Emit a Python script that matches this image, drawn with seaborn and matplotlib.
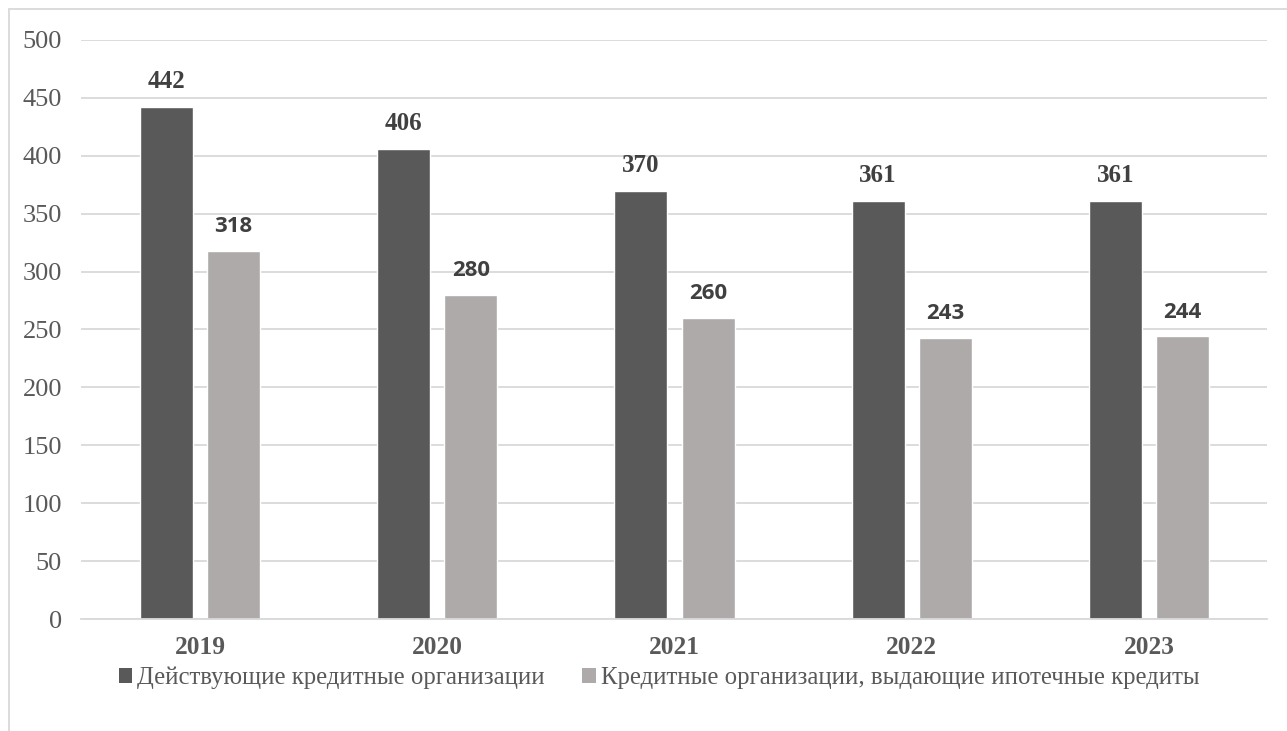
import matplotlib
matplotlib.use("Agg")
import matplotlib.pyplot as plt
import seaborn as sns
import pandas as pd
from matplotlib.lines import Line2D
from matplotlib.patches import Patch

years = ["2019", "2020", "2021", "2022", "2023"]
series_names = ["Действующие кредитные организации",
                "Кредитные организации, выдающие ипотечные кредиты"]
active = [442, 406, 370, 361, 361]
mortgage = [318, 280, 260, 243, 244]
y_ticks = [0, 50, 100, 150, 200, 250, 300, 350, 400, 450, 500]

df = pd.DataFrame({
    "year": years * 2,
    "series": [series_names[0]] * len(years) + [series_names[1]] * len(years),
    "value": active + mortgage,
})

sns.set_theme(style="white")
plt.rcParams["font.family"] = ["Liberation Serif", "DejaVu Serif"]

colors = ["#595959", "#AEAAAA"]
fig = plt.figure(figsize=(12.87, 7.31), dpi=100)
ax = fig.add_axes([0.0633, 0.1532, 0.9215, 0.7921])

sns.barplot(data=df, x="year", y="value", hue="series", palette=colors,
            width=0.566, gap=0.21, ax=ax, legend=False, saturation=1)

ax.set_ylim(0, 500)
ax.set_yticks(y_ticks)
ax.set_xlim(-0.5, len(years) - 0.5)
ax.yaxis.grid(True, color="#D9D9D9", linewidth=1.3)
ax.set_axisbelow(True)
for s in ["top", "right", "left"]:
    ax.spines[s].set_visible(False)
ax.spines["bottom"].set_color("#D9D9D9")
ax.spines["bottom"].set_linewidth(1.3)
ax.set_xlabel("")
ax.set_ylabel("")
ax.tick_params(axis="y", length=0, pad=14, labelsize=19, labelcolor="#595959")
ax.tick_params(axis="x", length=0, pad=12, labelsize=18.3, labelcolor="#595959")
for lbl in ax.get_xticklabels():
    lbl.set_fontweight("bold")

# bar labels
conts = ax.containers
ax.bar_label(conts[0], labels=[str(v) for v in active], padding=10,
             fontsize=18, fontweight="bold", color="#404040",
             family=["Liberation Serif"])
ax.bar_label(conts[1], labels=[str(v) for v in mortgage], padding=10,
             fontsize=16, fontweight="bold", color="#404040",
             family=["Open Sans", "DejaVu Sans"])

handles = [Patch(facecolor=c, edgecolor="none") for c in colors]
fig.legend(handles, series_names, loc="center", bbox_to_anchor=(0.512, 0.073),
           ncol=2, frameon=False, fontsize=17.8, labelcolor="#595959",
           handlelength=0.55, handleheight=0.55, handletextpad=0.2,
           columnspacing=1.5)

# chart area border (left and top)
fig.add_artist(Line2D([9 / 1287, 9 / 1287], [0, 1 - 9 / 731],
                      transform=fig.transFigure, color="#D9D9D9", lw=1.3))
fig.add_artist(Line2D([9 / 1287, 1], [1 - 9 / 731, 1 - 9 / 731],
                      transform=fig.transFigure, color="#D9D9D9", lw=1.3))

fig.savefig("out.png", dpi=100)
